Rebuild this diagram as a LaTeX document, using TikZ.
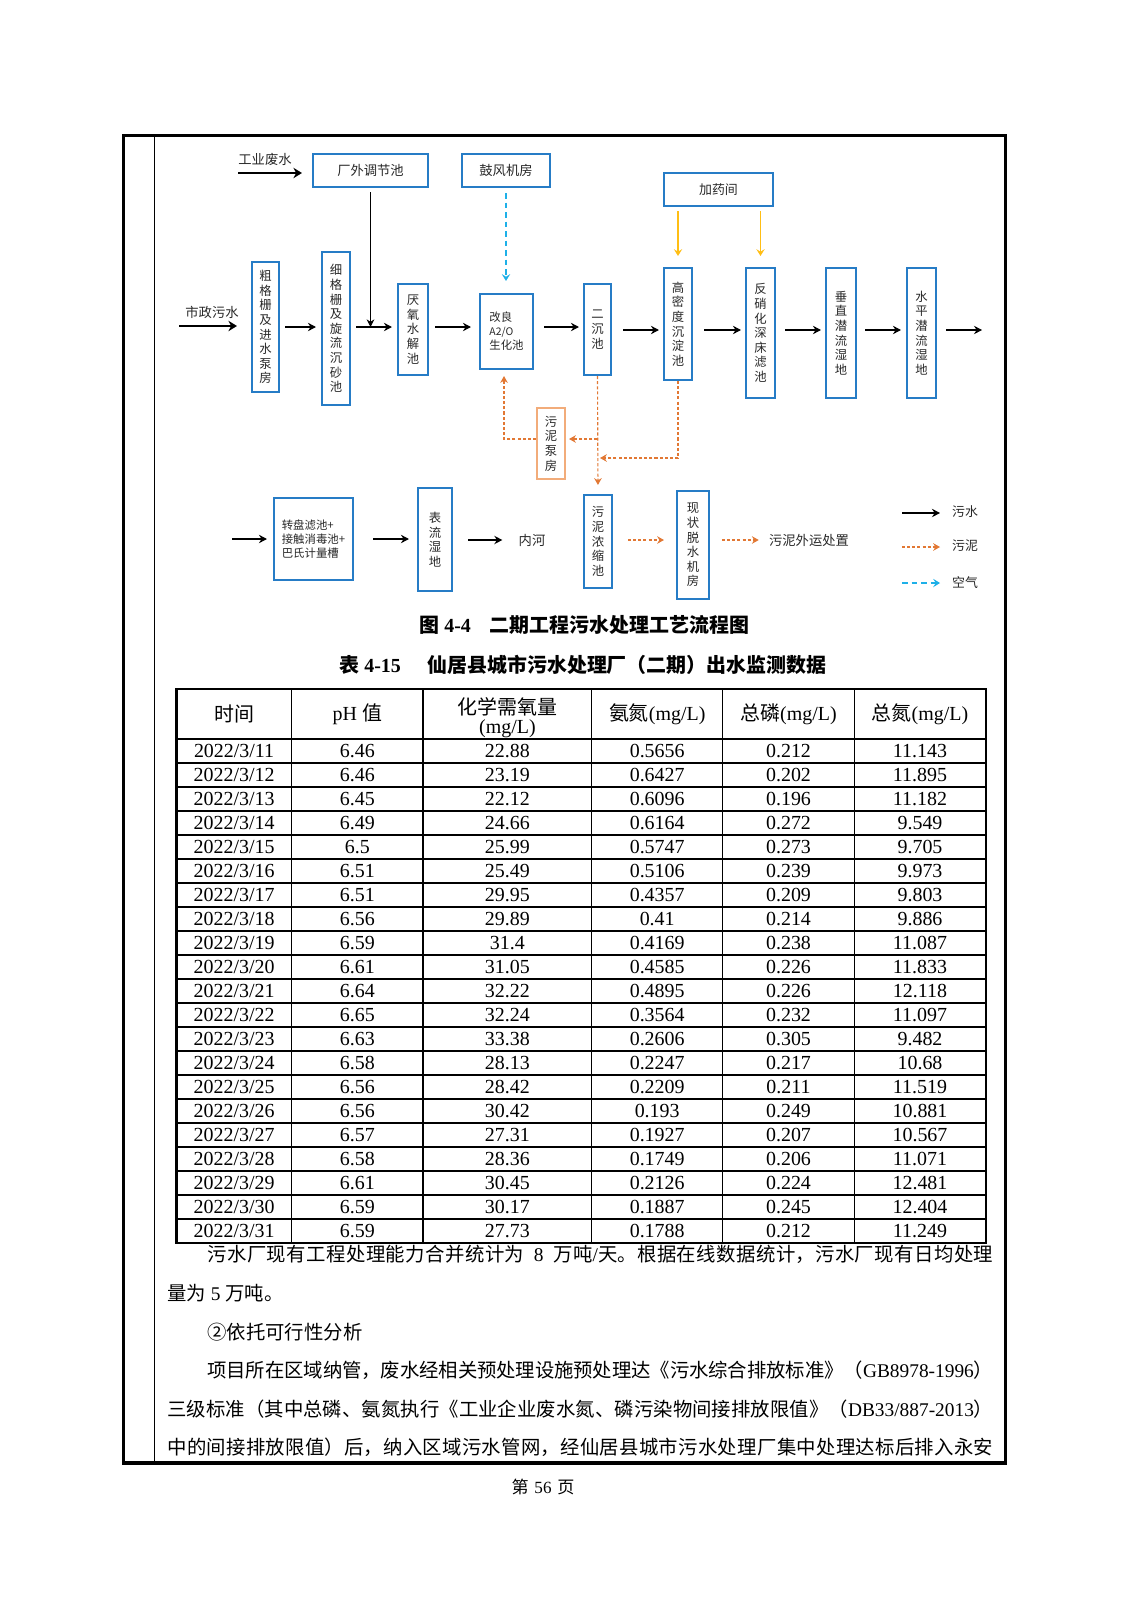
\documentclass[tikz,border=0pt]{standalone}
\usepackage{fontspec}
\setmainfont{Liberation Serif}
\newfontfamily\cjk{Noto Sans CJK SC}
\usetikzlibrary{arrows.meta}
\newcommand\pxu{0.5264pt}
\newcommand\jline[2]{\parbox{#1}{\XeTeXlinebreaklocale "zh"\XeTeXlinebreakskip=0pt plus 4pt minus 0.6pt\parfillskip=0pt\relax #2}}
\definecolor{boxblue}{RGB}{38,124,198}
\definecolor{sludge}{RGB}{226,120,52}
\definecolor{sludgebox}{RGB}{242,172,122}
\definecolor{airblue}{RGB}{30,176,232}
\definecolor{dose}{RGB}{255,190,20}
\definecolor{ink}{RGB}{40,40,40}
\tikzset{
 bx/.style 2 args={draw=boxblue, line width=1.1pt, minimum width=#1*\pxu, minimum height=#2*\pxu, inner sep=0pt, text=ink, align=center, font=\cjk\fontsize{6.5}{7.7}\selectfont},
 hbx/.style 2 args={bx={#1}{#2}, font=\cjk\fontsize{7}{8}\selectfont},
 lbl/.style={inner sep=0pt, text=ink, font=\cjk\fontsize{7}{8}\selectfont},
 flow/.style={draw=black, line width=0.8pt, -{Stealth[length=4.2pt,width=4.4pt]}},
 inflow/.style={draw=black, line width=1.5pt, -{Stealth[length=4.5pt,width=5.5pt]}},
 feed/.style={draw=black, line width=0.5pt, -{Stealth[length=4pt,width=4pt]}},
 sl/.style={draw=sludge, line width=0.6pt, dash pattern=on 1.6pt off 1.1pt, -{Stealth[length=3.6pt,width=4pt,inset=1.2pt]}},
 air/.style={draw=airblue, line width=0.7pt, dash pattern=on 3pt off 2pt, -{Stealth[length=3.6pt,width=4.4pt,inset=1.4pt]}},
 yel/.style={draw=dose, line width=0.6pt, -{Stealth[length=3.6pt,width=4.4pt,inset=1.4pt]}},
 cell/.style={inner sep=0pt, font=\fontsize{10.5}{12}\selectfont},
 body/.style={inner sep=0pt, anchor=west, font=\fontsize{10.2}{12}\selectfont},
}
\begin{document}
\begin{tikzpicture}[x=0.5264pt,y=-0.5264pt]
\fill[white] (0,0) rectangle (1131,1600);
\useasboundingbox (0,0) rectangle (1131,1600);
% page frame
\draw[line width=1.85pt] (123.5,135.5) rectangle (1005.5,1463);
\draw[line width=0.8pt] (154.5,135.5) -- (154.5,1463);

% ---------- flowchart ----------
\coordinate (mA) at (0,327);
\coordinate (mB) at (0,330);
\node[lbl] (iwt) at (265,159) {工业废水};
\coordinate (iwS) at (238,173);
\node[lbl] (mst) at (212,312) {市政污水};
\coordinate (msS) at (179,326);

\node[hbx={115}{33}] (cw) at (370.5,170.5) {厂外调节池};
\node[hbx={88}{33}] (gf) at (506,170.5) {鼓风机房};
\node[hbx={109}{33}, font=\cjk\fontsize{6.8}{8}\selectfont] (jy) at (718.5,189.5) {加药间};

\node[bx={27}{130}] (gz) at (265.5,327) {粗\\格\\栅\\及\\进\\水\\泵\\房};
\node[bx={28}{153}] (xg) at (336,328.5) {细\\格\\栅\\及\\旋\\流\\沉\\砂\\池};
\node[bx={30}{91}] (yy) at (413,329.5) {厌\\氧\\水\\解\\池};
\node[bx={53}{75}, align=left, font=\cjk\fontsize{6}{7.4}\selectfont] (a2o) at (506.5,331.5) {改良\\{\fontsize{5.5}{7.4}\selectfont A2/O}\\生化池};
\node[bx={27}{91}] (ec) at (597.5,329.5) {二\\沉\\池};
\node[bx={28}{112}] (gm) at (678,324) {高\\密\\度\\沉\\淀\\池};
\node[bx={29}{130}] (fx) at (760.5,333) {反\\硝\\化\\深\\床\\滤\\池};
\node[bx={30}{130}] (cz) at (841,333) {垂\\直\\潜\\流\\湿\\地};
\node[bx={29}{130}] (sp) at (921.5,333) {水\\平\\潜\\流\\湿\\地};
\coordinate (outE) at (982,330);

\node[bx={28}{71}, draw=sludgebox] (wb) at (551,443.5) {污\\泥\\泵\\房};

\coordinate (zin) at (232,539);
\node[bx={79}{82}, align=left, font=\cjk\fontsize{6}{7.2}\selectfont] (zp) at (313.5,539) {转盘滤池+\\接触消毒池+\\巴氏计量槽};
\node[bx={34}{103}] (bl) at (435,539.5) {表\\流\\湿\\地};
\node[lbl] (nh) at (532,540) {内河};
\node[bx={28}{93}] (ns) at (598,541.5) {污\\泥\\浓\\缩\\池};
\node[bx={32}{108}] (ts) at (693,545) {现\\状\\脱\\水\\机\\房};
\node[lbl] (wy) at (809,540) {污泥外运处置};
\coordinate (rS) at (0,540);

% inflows
\draw[inflow, shorten >=10*\pxu] (iwS) -- (iwS -| cw.west);
\draw[inflow, shorten >=14*\pxu] (msS) -- (msS -| gz.west);
\draw[feed, shorten <=4*\pxu] (cw.south) -- (cw.south |- mA);
% main line
\draw[flow, shorten <=5*\pxu, shorten >=5*\pxu] (gz.east |- mA) -- (xg.west |- mA);
\draw[flow, shorten <=5*\pxu, shorten >=5*\pxu] (xg.east |- mA) -- (yy.west |- mA);
\draw[flow, shorten <=6*\pxu, shorten >=8*\pxu] (yy.east |- mA) -- (a2o.west |- mA);
\draw[flow, shorten <=10*\pxu, shorten >=4*\pxu] (a2o.east |- mA) -- (ec.west |- mA);
\draw[flow, shorten <=11*\pxu, shorten >=4*\pxu] (ec.east |- mB) -- (gm.west |- mB);
\draw[flow, shorten <=11*\pxu, shorten >=4*\pxu] (gm.east |- mB) -- (fx.west |- mB);
\draw[flow, shorten <=9*\pxu, shorten >=4*\pxu] (fx.east |- mB) -- (cz.west |- mB);
\draw[flow, shorten <=8*\pxu, shorten >=5*\pxu] (cz.east |- mB) -- (sp.west |- mB);
\draw[flow, shorten <=9*\pxu] (sp.east |- mB) -- (outE);
% air and dosing
\draw[air, shorten <=5*\pxu, shorten >=12*\pxu] (gf.south) -- (gf.south |- a2o.north);
\draw[yel, shorten <=4*\pxu, shorten >=11*\pxu] (jy.south -| gm.north) -- (gm.north);
\draw[yel, shorten <=4*\pxu, shorten >=11*\pxu] (jy.south -| fx.north) -- (fx.north);
% sludge
\coordinate (b1) at (597.5,439);
\coordinate (b2) at (597.5,458);
\draw[sl, shorten >=9*\pxu] (ec.south) -- (ns.north);
\draw[sl, shorten >=3*\pxu] (b1) -- (b1 -| wb.east);
\draw[sl, shorten >=6*\pxu] (b1 -| wb.west) -| ([xshift=-2.5*\pxu]a2o.south);
\draw[sl, shorten >=2.5*\pxu] (gm.south) |- (b2);
\draw[sl, shorten <=15*\pxu, shorten >=12*\pxu] (ns.east |- rS) -- (ts.west |- rS);
\draw[sl, shorten <=12*\pxu, shorten >=10*\pxu] (ts.east |- rS) -- (wy.west);
% bottom row
\draw[flow, shorten >=6*\pxu] (zin) -- (zin -| zp.west);
\draw[flow, shorten <=19*\pxu, shorten >=8*\pxu] (zp.east) -- (bl.west |- zp.east);
\draw[flow, shorten <=15*\pxu, shorten >=16*\pxu] (bl.east |- nh.west) -- (nh.west);
% legend
\node[lbl, font=\cjk\fontsize{6.8}{8}\selectfont] (lt1) at (965,512) {污水};
\node[lbl, font=\cjk\fontsize{6.8}{8}\selectfont] (lt2) at (965,546) {污泥};
\node[lbl, font=\cjk\fontsize{6.8}{8}\selectfont] (lt3) at (965,583) {空气};
\coordinate (lg1) at (902,513);
\coordinate (lg2) at (902,547);
\coordinate (lg3) at (902,583);
\draw[flow] (lg1) -- (940,513);
\draw[sl] (lg2) -- (940,547);
\draw[air] (lg3) -- (940,583);

% ---------- captions ----------
\node[anchor=west, inner sep=0pt, font=\fontsize{10.5}{12}\selectfont\bfseries] (cap1) at (419,625) {{\cjk 图} 4-4\hspace{10pt}{\cjk 二期工程污水处理工艺流程图}};
\node[anchor=west, inner sep=0pt, font=\fontsize{10.5}{12}\selectfont\bfseries] (cap2) at (339,665) {{\cjk 表} 4-15\hspace{14pt}{\cjk 仙居县城市污水处理厂（二期）出水监测数据}};

% ---------- table ----------
\draw[line width=1.1pt] (176.5,689) rectangle (985.7,1243);
\foreach \xx in {291.7,423,591.7,722.7,854.3} \draw[line width=0.7pt] (\xx,689) -- (\xx,1243);
\foreach \k in {0,...,20} \draw[line width=0.7pt] (176.5,739+24*\k) -- (985.7,739+24*\k);
\node[cell] (h1) at (234.1,714) {\cjk 时间};
\node[cell] (h2) at (357.4,714) {pH {\cjk 值}};
\node[cell] (h3a) at (507.4,706.5) {\cjk 化学需氧量};
\node[cell] (h3b) at (507.4,729) {(mg/L)};
\node[cell] (h4) at (657.2,714) {{\cjk 氨氮}(mg/L)};
\node[cell] (h5) at (788.5,714) {{\cjk 总磷}(mg/L)};
\node[cell] (h6) at (920,714) {{\cjk 总氮}(mg/L)};
\foreach \pp/\cc/\nn/\tp/\tn [count=\i] in {
6.46/22.88/0.5656/0.212/11.143,
6.46/23.19/0.6427/0.202/11.895,
6.45/22.12/0.6096/0.196/11.182,
6.49/24.66/0.6164/0.272/9.549,
6.5/25.99/0.5747/0.273/9.705,
6.51/25.49/0.5106/0.239/9.973,
6.51/29.95/0.4357/0.209/9.803,
6.56/29.89/0.41/0.214/9.886,
6.59/31.4/0.4169/0.238/11.087,
6.61/31.05/0.4585/0.226/11.833,
6.64/32.22/0.4895/0.226/12.118,
6.65/32.24/0.3564/0.232/11.097,
6.63/33.38/0.2606/0.305/9.482,
6.58/28.13/0.2247/0.217/10.68,
6.56/28.42/0.2209/0.211/11.519,
6.56/30.42/0.193/0.249/10.881,
6.57/27.31/0.1927/0.207/10.567,
6.58/28.36/0.1749/0.206/11.071,
6.61/30.45/0.2126/0.224/12.481,
6.59/30.17/0.1887/0.245/12.404,
6.59/27.73/0.1788/0.212/11.249}{
 \node[cell] (d\i) at (234.1,727+24*\i) {2022/3/\number\numexpr\i+10\relax};
 \node[cell] (p\i) at (357.4,727+24*\i) {\pp};
 \node[cell] (c\i) at (507.4,727+24*\i) {\cc};
 \node[cell] (n\i) at (657.2,727+24*\i) {\nn};
 \node[cell] (t\i) at (788.5,727+24*\i) {\tp};
 \node[cell] (z\i) at (920,727+24*\i) {\tn};
}

% ---------- body text ----------
\node[body] (l1) at (207,1254.5) {\jline{413.7pt}{{\cjk 污水厂现有工程处理能力合并统计为}\hspace{2.5pt} 8 \hspace{2.5pt}{\cjk 万吨}/{\cjk 天。根据在线数据统计，污水厂现有日均处理}}};
\node[body] (l2) at (167,1293) {{\cjk 量为} 5 {\cjk 万吨。}};
\node[body] (l3) at (207,1332) {\cjk ②依托可行性分析};
\node[body] (l4) at (207,1370.5) {\jline{413.7pt}{{\cjk 项目所在区域纳管，废水经相关预处理设施预处理达《污水综合排放标准》（}GB8978-1996{\cjk ）}}};
\node[body] (l5) at (167,1409) {\jline{434.8pt}{{\cjk 三级标准（其中总磷、氨氮执行《工业企业废水氮、磷污染物间接排放限值》（}DB33/887-2013{\cjk ）}}};
\node[body] (l6) at (167,1447) {\jline{434.8pt}{\cjk 中的间接排放限值）后，纳入区域污水管网，经仙居县城市污水处理厂集中处理达标后排入永安}};

\node[inner sep=0pt, font=\fontsize{9}{10}\selectfont] (pg) at (543,1487) {{\cjk 第}\hspace{3pt}56\hspace{3pt}{\cjk 页}};
\end{tikzpicture}
\end{document}
